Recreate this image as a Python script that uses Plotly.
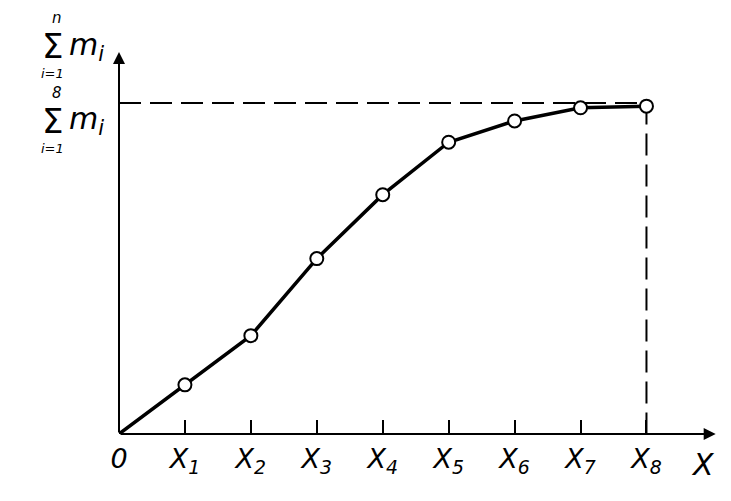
import plotly.graph_objects as go

# Data
x_pos = [0, 1, 2, 3, 4, 5, 6, 7, 8]
cum_m = [0, 15, 30, 53.5, 73, 89, 95.5, 99.5, 100]
tick_labels = ["0", "X<sub>1</sub>", "X<sub>2</sub>", "X<sub>3</sub>", "X<sub>4</sub>",
               "X<sub>5</sub>", "X<sub>6</sub>", "X<sub>7</sub>", "X<sub>8</sub>"]
total_level = 101

FONT = "DejaVu Sans"
L, T, W, H = 111, 49, 600, 377   # plot area (page shows it at 119, 55)
PX0, PY0 = 119, 55

fig = go.Figure()

# dashed guide lines
fig.add_trace(go.Scatter(x=[0, x_pos[-1], x_pos[-1]], y=[total_level, total_level, 0],
                         mode="lines", line=dict(color="black", width=2, dash="22px,9px"),
                         hoverinfo="skip", showlegend=False))
fig.add_trace(go.Scatter(x=x_pos, y=cum_m, mode="lines",
                         line=dict(color="black", width=3.5), showlegend=False))
fig.add_trace(go.Scatter(x=x_pos[1:], y=cum_m[1:], mode="markers",
                         marker=dict(size=13, color="white", line=dict(color="black", width=2)),
                         showlegend=False))

# axes arrows
fig.add_annotation(x=9.05, y=0, ax=0, ay=0, xref="x", yref="y", axref="x", ayref="y",
                   showarrow=True, arrowhead=2, arrowsize=1.2, arrowwidth=2, arrowcolor="black", text="")
fig.add_annotation(x=0, y=116.5, ax=0, ay=0, xref="x", yref="y", axref="x", ayref="y",
                   showarrow=True, arrowhead=2, arrowsize=1.2, arrowwidth=2, arrowcolor="black", text="")

# axis name X
fig.add_annotation(x=8.85, y=0, xref="x", yref="y", yshift=-30, text="<i>X</i>", showarrow=False,
                   font=dict(family=FONT, size=30, color="black"))


def px_ann(text, xp, yp, size, xanchor="center"):
    fig.add_annotation(x=(xp - PX0) / W, y=1 - (yp - PY0) / H, xref="paper", yref="paper", text=text,
                       showarrow=False, font=dict(family=FONT, size=size, color="black"),
                       xanchor=xanchor, yanchor="middle", borderpad=0)


for top_txt, ys in [("<i>n</i>", 0), ("<i>8</i>", 75)]:
    px_ann(top_txt, 57, 16 + ys, 15)
    px_ann("Σ", 52, 44 + ys, 34)
    px_ann("<i>i=1</i>", 52, 71 + ys, 13)
    px_ann("<i>m<sub>i</sub></i>", 68, 44 + ys, 30, xanchor="left")

fig.update_layout(
    width=731, height=501,
    margin=dict(l=L, r=731 - L - W, t=T, b=501 - T - H),
    plot_bgcolor="white", paper_bgcolor="white",
    xaxis=dict(range=[0, 9.1], showgrid=False, zeroline=False, showline=False,
               tickmode="array", tickvals=x_pos, ticktext=["<i>%s</i>" % t for t in tick_labels],
               ticks="inside", ticklen=14, tickwidth=2, tickcolor="black", ticklabelstandoff=6,
               tickfont=dict(family=FONT, size=27, color="black")),
    yaxis=dict(range=[0, 115], showgrid=False, zeroline=False, showline=False,
               showticklabels=False, ticks=""),
)

fig.write_html("out.html")
